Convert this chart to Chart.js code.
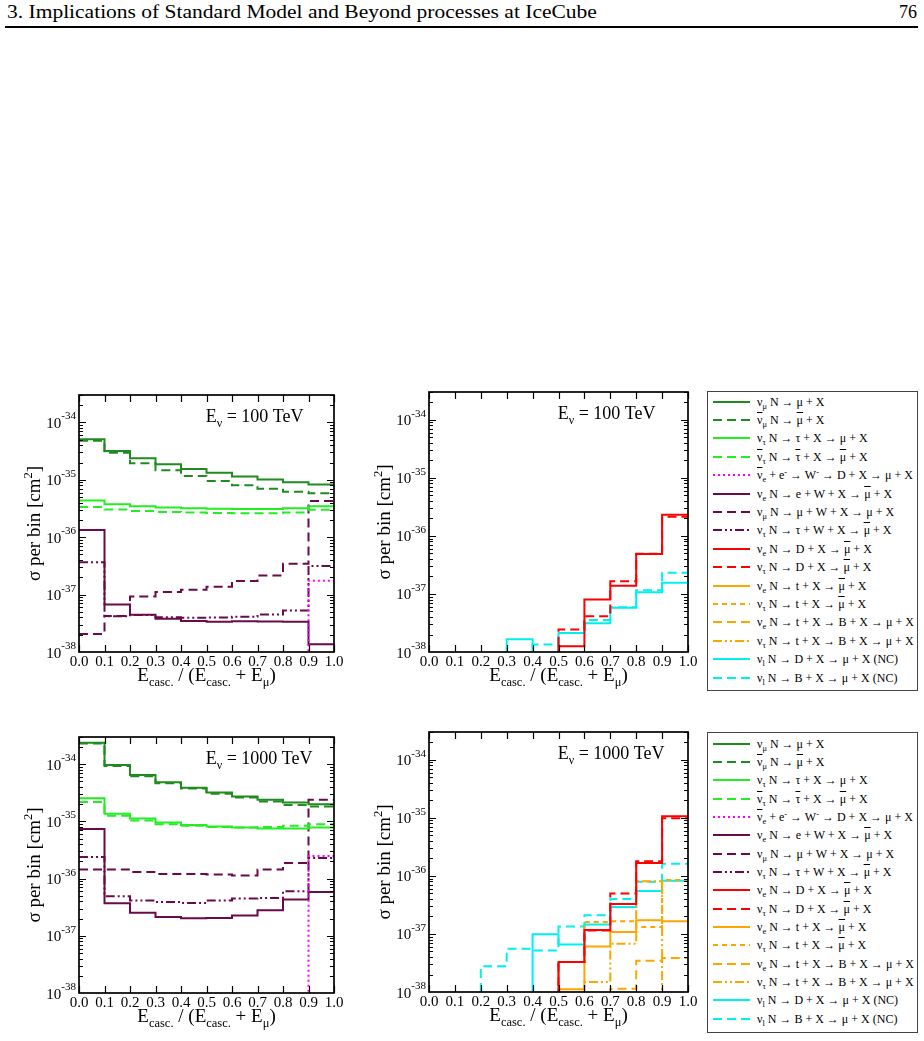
<!DOCTYPE html>
<html><head><meta charset="utf-8">
<script src="https://cdn.jsdelivr.net/npm/chart.js@4/dist/chart.umd.min.js"></script>
<style>
html,body{margin:0;padding:0;background:#fff;}
body{width:924px;height:1041px;position:relative;overflow:hidden;font-family:"Liberation Serif",serif;color:#000;}
.hdr{position:absolute;left:7px;top:2px;font-size:18px;white-space:nowrap;transform-origin:0 0;}
.pg{position:absolute;right:7px;top:2px;font-size:18px;}
.rule{position:absolute;left:5px;width:913px;top:26px;height:1.6px;background:#000;}
canvas{position:absolute;}
.legend{position:absolute;border:1.3px solid #444;box-sizing:border-box;background:#fff;}
.row{position:absolute;left:0;height:18px;width:100%;font-size:12px;line-height:18px;white-space:nowrap;}
.row svg{position:absolute;left:4px;top:0;}
.row .t{position:absolute;left:49px;top:0;}
.row sub{font-size:0.7em;vertical-align:-0.35em;line-height:0;}
.row sup{font-size:0.7em;vertical-align:0.5em;line-height:0;}
.ob{text-decoration:overline;}
</style></head>
<body>
<div class="hdr" id="hdr">3. Implications of Standard Model and Beyond processes at IceCube</div>
<div class="pg">76</div>
<div class="rule"></div>
<canvas id="c1"></canvas><canvas id="c2"></canvas><canvas id="c3"></canvas><canvas id="c4"></canvas>
<div class="legend" id="leg1"></div>
<div class="legend" id="leg2"></div>
<script>
// ---------- axes ----------
const binEdges = [0.0, 0.1, 0.2, 0.3, 0.4, 0.5, 0.6, 0.7, 0.8, 0.9, 1.0];
const xTickLabels = ['0.0','0.1','0.2','0.3','0.4','0.5','0.6','0.7','0.8','0.9','1.0'];
const yDecades = [-38, -37, -36, -35, -34];
const yMin = 1e-38, yMax = 3e-34;

// ---------- E_nu = 100 TeV (left panel) ----------
const numu_100     = [5.06e-35, 3.17e-35, 2.37e-35, 1.86e-35, 1.54e-35, 1.33e-35, 1.14e-35, 1.01e-35, 9.05e-36, 8.24e-36];
const numubar_100  = [4.80e-35, 2.96e-35, 1.94e-35, 1.46e-35, 1.17e-35, 9.55e-36, 8.00e-36, 7.00e-36, 6.20e-36, 5.80e-36];
const nutau_100    = [4.35e-36, 3.75e-36, 3.46e-36, 3.28e-36, 3.19e-36, 3.14e-36, 3.11e-36, 3.11e-36, 3.19e-36, 3.45e-36];
const nutaubar_100 = [3.37e-36, 3.03e-36, 2.87e-36, 2.76e-36, 2.70e-36, 2.64e-36, 2.60e-36, 2.60e-36, 2.70e-36, 3.02e-36];
const glashow_100  = [0, 0, 0, 0, 0, 0, 0, 0, 0, 1.75e-37];
const nueW_100     = [1.33e-36, 6.70e-38, 4.47e-38, 3.78e-38, 3.46e-38, 3.38e-38, 3.42e-38, 3.40e-38, 3.38e-38, 1.36e-38];
const numuW_100    = [2.05e-38, 4.25e-38, 9.30e-38, 1.11e-37, 1.22e-37, 1.37e-37, 1.72e-37, 2.15e-37, 3.45e-37, 4.25e-36];
const nutauW_100   = [3.65e-37, 4.20e-38, 4.40e-38, 4.05e-38, 3.95e-38, 4.00e-38, 4.10e-38, 4.50e-38, 5.30e-38, 3.15e-37];
// ---------- E_nu = 100 TeV (right panel) ----------
const nueD_100     = [0, 0, 0, 0, 0, 1.25e-38, 7.98e-38, 1.38e-37, 4.87e-37, 2.31e-36];
const nutauD_100   = [0, 0, 0, 0, 0, 2.45e-38, 4.11e-38, 1.65e-37, 4.90e-37, 2.14e-36];
const ncD_100      = [0, 0, 0, 1.65e-38, 0, 2.13e-38, 3.12e-38, 5.80e-38, 1.07e-37, 1.55e-37];
const ncB_100      = [0, 0, 0, 0, 1.34e-38, 2.13e-38, 3.55e-38, 5.90e-38, 1.16e-37, 2.32e-37];

// ---------- E_nu = 1000 TeV (left panel) ----------
const numu_1000     = [2.39e-34, 9.73e-35, 6.52e-35, 4.86e-35, 3.87e-35, 3.20e-35, 2.73e-35, 2.39e-35, 2.14e-35, 2.00e-35];
const numubar_1000  = [2.31e-34, 9.35e-35, 6.18e-35, 4.66e-35, 3.77e-35, 3.04e-35, 2.63e-35, 2.23e-35, 1.95e-35, 1.83e-35];
const nutau_1000    = [2.55e-35, 1.36e-35, 1.13e-35, 9.60e-36, 8.63e-36, 8.18e-36, 7.86e-36, 7.55e-36, 7.55e-36, 7.86e-36];
const nutaubar_1000 = [2.20e-35, 1.26e-35, 1.04e-35, 8.98e-36, 8.40e-36, 8.00e-36, 7.86e-36, 8.00e-36, 8.40e-36, 8.98e-36];
const glashow_1000  = [0, 0, 0, 0, 0, 0, 0, 0, 0, 2.50e-36];
const nueW_1000     = [7.35e-36, 3.70e-37, 2.52e-37, 2.14e-37, 2.03e-37, 2.05e-37, 2.26e-37, 2.80e-37, 4.31e-37, 5.86e-37];
const numuW_1000    = [1.44e-36, 1.45e-36, 1.31e-36, 1.21e-36, 1.21e-36, 1.18e-36, 1.13e-36, 1.44e-36, 1.88e-36, 2.39e-35];
const nutauW_1000   = [2.39e-36, 4.91e-37, 4.13e-37, 3.90e-37, 3.76e-37, 4.13e-37, 4.48e-37, 4.60e-37, 6.00e-37, 2.30e-36];
// ---------- E_nu = 1000 TeV (right panel) ----------
const nueD_1000     = [0, 0, 0, 0, 0, 3.30e-38, 1.17e-37, 3.27e-37, 1.66e-36, 1.06e-35];
const nutauD_1000   = [0, 0, 0, 0, 0, 3.30e-38, 1.14e-37, 4.95e-37, 1.78e-36, 9.77e-36];
const nueT_1000     = [0, 0, 0, 0, 0, 1.11e-38, 6.07e-38, 1.08e-37, 1.72e-37, 1.66e-37];
const nutauT_1000   = [0, 0, 0, 0, 0, 3.30e-38, 1.61e-37, 1.65e-37, 1.31e-37, 8.50e-37];
const nueTB_1000    = [0, 0, 0, 0, 0, 0, 0, 1.14e-38, 3.45e-38, 3.86e-38];
const nutauTB_1000  = [0, 0, 0, 0, 0, 0, 1.48e-38, 6.80e-38, 8.10e-37, 0];
const ncD_1000      = [0, 0, 0, 0, 9.90e-38, 6.60e-38, 1.46e-37, 2.90e-37, 5.50e-37, 8.20e-37];
const ncB_1000      = [0, 0, 2.77e-38, 5.57e-38, 5.20e-38, 1.34e-37, 2.10e-37, 4.00e-37, 7.90e-37, 1.62e-36];

// ---------- legend labels ----------
const seriesLabels = [
  'ν<sub>μ</sub> N → μ + X',
  '<span class="ob">ν</span><sub>μ</sub> N → <span class="ob">μ</span> + X',
  'ν<sub>τ</sub> N → τ + X → μ + X',
  '<span class="ob">ν</span><sub>τ</sub> N → <span class="ob">τ</span> + X → <span class="ob">μ</span> + X',
  '<span class="ob">ν</span><sub>e</sub> + e<sup>-</sup> → W<sup>-</sup> → D + X → μ + X',
  'ν<sub>e</sub> N → e + W + X → <span class="ob">μ</span> + X',
  'ν<sub>μ</sub> N → μ + W + X → μ + X',
  'ν<sub>τ</sub> N → τ + W + X → <span class="ob">μ</span> + X',
  'ν<sub>e</sub> N → D + X → <span class="ob">μ</span> + X',
  'ν<sub>τ</sub> N → D + X → <span class="ob">μ</span> + X',
  'ν<sub>e</sub> N → t + X → <span class="ob">μ</span> + X',
  'ν<sub>τ</sub> N → t + X → <span class="ob">μ</span> + X',
  'ν<sub>e</sub> N → t + X → B + X → μ + X',
  'ν<sub>τ</sub> N → t + X → B + X → μ + X',
  'ν<sub>l</sub> N → D + X → μ + X (NC)',
  'ν<sub>l</sub> N → B + X → μ + X (NC)'
];

// ---------- styles ----------
const DG = '#1f8c1f', LG = '#22ee22', MG = '#ff00ff', MR = '#6a0a4a', RD = '#ff0000', OR = '#ffa500', CY = '#00f0f0';
const LONG = [9, 5], SHORT = [5, 4], DOT = [2, 3], DDOT = [9, 3, 2, 3, 2, 3];
const seriesStyle = [
  [DG, []], [DG, LONG], [LG, []], [LG, LONG], [MG, DOT], [MR, []], [MR, LONG], [MR, DDOT],
  [RD, []], [RD, LONG], [OR, []], [OR, SHORT], [OR, LONG], [OR, DDOT], [CY, []], [CY, LONG]
];

const panels = [
  {id:'c1', energy:'100',  box:{l:79, t:395, r:334, b:652}, cv:{x:0,   y:380, w:350, h:320},
   sets:[[0,numu_100],[1,numubar_100],[2,nutau_100],[3,nutaubar_100],[4,glashow_100],[5,nueW_100],[6,numuW_100],[7,nutauW_100]]},
  {id:'c2', energy:'100',  box:{l:429, t:392, r:688, b:652}, cv:{x:350, y:380, w:355, h:320},
   sets:[[8,nueD_100],[9,nutauD_100],[14,ncD_100],[15,ncB_100]]},
  {id:'c3', energy:'1000', box:{l:79, t:737, r:334, b:993}, cv:{x:0,   y:720, w:350, h:320},
   sets:[[0,numu_1000],[1,numubar_1000],[2,nutau_1000],[3,nutaubar_1000],[4,glashow_1000],[5,nueW_1000],[6,numuW_1000],[7,nutauW_1000]]},
  {id:'c4', energy:'1000', box:{l:429, t:732, r:688, b:992}, cv:{x:350, y:720, w:355, h:320},
   sets:[[8,nueD_1000],[9,nutauD_1000],[10,nueT_1000],[11,nutauT_1000],[12,nueTB_1000],[13,nutauTB_1000],[14,ncD_1000],[15,ncB_1000]]}
];

const FONT = '"Liberation Serif", "Times New Roman", serif';
function drawParts(ctx, parts, x, y, align) {
  let w = 0;
  const ws = parts.map(p => { ctx.font = p[1] + 'px ' + FONT; const m = ctx.measureText(p[0]).width; w += m; return m; });
  let cx = align === 'right' ? x - w : (align === 'center' ? x - w / 2 : x);
  parts.forEach((p, i) => { ctx.font = p[1] + 'px ' + FONT; ctx.fillText(p[0], cx, y + (p[2] || 0)); cx += ws[i]; });
}

const framePlugin = {
  id: 'frame',
  afterDatasetsDraw(chart) {
    const {ctx, chartArea: a, scales: {x, y}} = chart;
    ctx.save();
    ctx.strokeStyle = '#000';
    ctx.lineWidth = 1.2;
    ctx.beginPath();
    yDecades.forEach(e => {
      for (let m = 1; m <= 9; m++) {
        const v = m * Number('1e' + e);
        if (v > yMax || v <= yMin) continue;
        const py = Math.round(y.getPixelForValue(v)) + 0.5;
        const len = m === 1 ? 7 : 4;
        ctx.moveTo(a.left, py); ctx.lineTo(a.left + len, py);
        ctx.moveTo(a.right, py); ctx.lineTo(a.right - len, py);
      }
    });
    binEdges.forEach(v => {
      const px = Math.round(x.getPixelForValue(v)) + 0.5;
      ctx.moveTo(px, a.bottom); ctx.lineTo(px, a.bottom - 7);
      ctx.moveTo(px, a.top); ctx.lineTo(px, a.top + 7);
    });
    ctx.stroke();
    ctx.lineWidth = 1.7;
    ctx.strokeRect(a.left, a.top, a.right - a.left, a.bottom - a.top);
    ctx.restore();
  },
  afterDraw(chart, args, opts) {
    const {ctx, chartArea: a, scales: {x, y}} = chart;
    ctx.save();
    ctx.fillStyle = '#000';
    ctx.textBaseline = 'alphabetic';
    // y tick labels
    yDecades.forEach(e => {
      const py = y.getPixelForValue(Number('1e' + e));
      drawParts(ctx, [['10', 15, 5.5], [String(e), 11, -3]], a.left - 3, py, 'right');
    });
    // x tick labels
    binEdges.forEach((v, i) => {
      const px = x.getPixelForValue(v);
      drawParts(ctx, [[xTickLabels[i], 15, 0]], px, a.bottom + 13.5, 'center');
    });
    // x title
    drawParts(ctx, [['E', 19], ['casc.', 12.5, 5], [' / (E', 19], ['casc.', 12.5, 5], [' + E', 19], ['μ', 12.5, 5], [')', 19]],
      (a.left + a.right) / 2, a.bottom + 29, 'center');
    // y title
    ctx.save();
    ctx.translate(a.left - 39.5, (a.top + a.bottom) / 2);
    ctx.rotate(-Math.PI / 2);
    drawParts(ctx, [['σ per bin [cm', 19], ['2', 12.5, -8], [']', 19]], 0, 0, 'center');
    ctx.restore();
    // energy label
    drawParts(ctx, [['E', 18], ['ν', 12, 5], [' = ' + opts.energy + ' TeV', 18]],
      a.left + (a.right - a.left) * 0.497, a.top + 27, 'left');
    ctx.restore();
  }
};

function floorZero(v) { return v > 0 ? v : yMin / 100; }

panels.forEach(p => {
  const cv = document.getElementById(p.id);
  cv.width = p.cv.w; cv.height = p.cv.h;
  cv.style.left = p.cv.x + 'px'; cv.style.top = p.cv.y + 'px';
  cv.style.width = p.cv.w + 'px'; cv.style.height = p.cv.h + 'px';
  const datasets = p.sets.map(([si, vals]) => ({
    label: seriesLabels[si].replace(/<[^>]+>/g, ''),
    data: binEdges.map((xv, i) => ({x: xv, y: floorZero(vals[Math.min(i, vals.length - 1)])})),
    borderColor: seriesStyle[si][0],
    borderDash: seriesStyle[si][1],
    borderWidth: 2,
    stepped: 'before',
    pointRadius: 0,
    fill: false,
    tension: 0
  }));
  new Chart(cv, {
    type: 'line',
    data: {datasets},
    options: {
      responsive: false, animation: false, devicePixelRatio: 1, events: [],
      layout: {padding: {left: p.box.l - p.cv.x, top: p.box.t - p.cv.y, right: p.cv.x + p.cv.w - p.box.r, bottom: p.cv.y + p.cv.h - p.box.b}},
      scales: {
        x: {type: 'linear', min: 0, max: 1, display: false},
        y: {type: 'logarithmic', min: yMin, max: yMax, display: false}
      },
      plugins: {legend: {display: false}, tooltip: {enabled: false}, frame: {energy: p.energy}}
    },
    plugins: [framePlugin]
  });
});

// ---------- HTML legends ----------
function buildLegend(id, left, top, width, height, firstRow, step) {
  const el = document.getElementById(id);
  el.style.left = left + 'px'; el.style.top = top + 'px';
  el.style.width = width + 'px'; el.style.height = height + 'px';
  seriesLabels.forEach((lab, i) => {
    const row = document.createElement('div');
    row.className = 'row';
    row.style.top = (firstRow + i * step - 9) + 'px';
    const [col, dash] = seriesStyle[i];
    row.innerHTML = '<svg width="40" height="18"><line x1="1" y1="9" x2="38" y2="9" stroke="' + col +
      '" stroke-width="2" stroke-dasharray="' + (dash.length ? dash.join(' ') : 'none') + '"/></svg><span class="t">' + lab + '</span>';
    el.appendChild(row);
  });
}
buildLegend('leg1', 707, 391, 211, 300, 9.5, 18.4);
buildLegend('leg2', 707, 732, 211, 301, 10.5, 18.35);

// header width fit
const hdr = document.getElementById('hdr');
hdr.style.transform = 'scaleX(' + (590 / hdr.offsetWidth) + ')';
</script>
</body></html>
